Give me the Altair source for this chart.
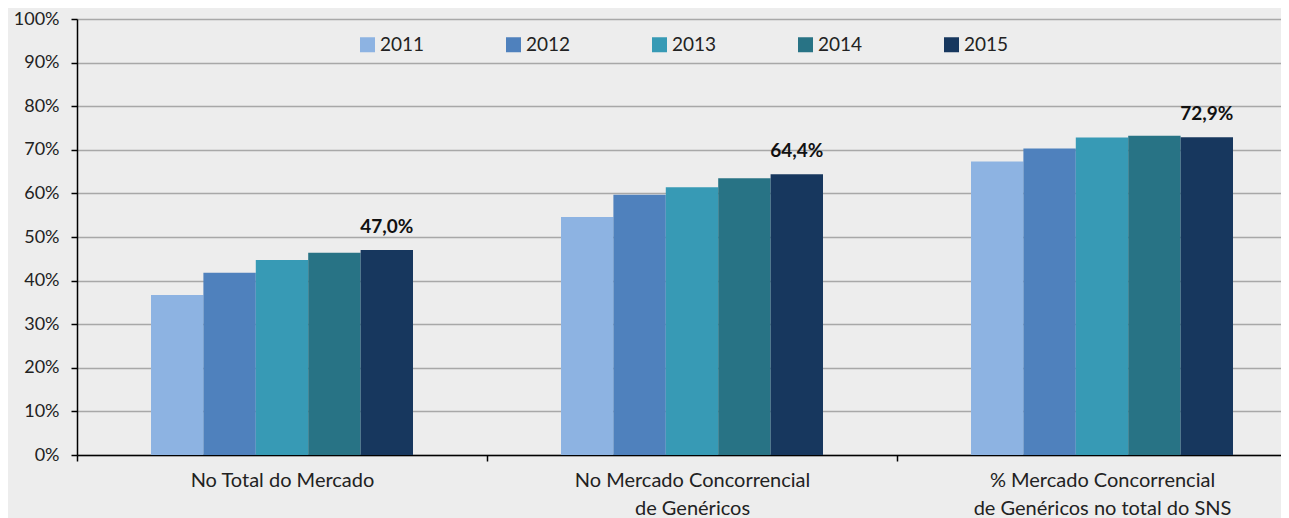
import altair as alt
import pandas as pd

categories = [
    "No Total do Mercado",
    "No Mercado Concorrencial\nde Genéricos",
    "% Mercado Concorrencial\nde Genéricos no total do SNS",
]
years = ["2011", "2012", "2013", "2014", "2015"]
v2011 = [36.7, 54.6, 67.3]
v2012 = [41.8, 59.7, 70.3]
v2013 = [44.7, 61.4, 72.8]
v2014 = [46.4, 63.5, 73.2]
v2015 = [47.0, 64.4, 72.9]
colors = ["#8DB3E2", "#4F81BD", "#379AB5", "#287385", "#17375E"]

series = dict(zip(years, [v2011, v2012, v2013, v2014, v2015]))
rows = []
for yr, vals in series.items():
    for c, v in zip(categories, vals):
        rows.append({"cat": c, "year": yr, "value": v / 100.0,
                     "label": f"{v:.1f}%".replace(".", ",")})
df = pd.DataFrame(rows)

FONT = "Lato"
TXT = "#222222"

x_enc = alt.X(
    "cat:N", sort=categories,
    scale=alt.Scale(range=[0, 1230], paddingInner=0, paddingOuter=0),
    axis=alt.Axis(title=None, labelAngle=0, labelExpr="split(datum.label, '\\n')",
                  labelFontSize=20, labelLineHeight=28, tickBand="extent", tickSize=6,
                  labelPadding=9, labelFont=FONT, labelColor=TXT, grid=False,
                  labelLimit=0),
)
xo_enc = alt.XOffset("year:N", sort=years,
                     scale=alt.Scale(range=[74, 336], paddingInner=0, paddingOuter=0))
y_enc = alt.Y(
    "value:Q", scale=alt.Scale(domain=[0, 1], nice=False),
    axis=alt.Axis(title=None, format=".0%", tickCount=10, labelFontSize=18, labelFont=FONT,
                  labelColor=TXT, tickSize=6, labelPadding=12, grid=True,
                  gridColor="#A8A8A8", gridWidth=1.5),
)

bars = alt.Chart(df).mark_bar(strokeWidth=0).encode(
    x=x_enc, xOffset=xo_enc, y=y_enc,
    color=alt.Color(
        "year:N", sort=years, scale=alt.Scale(domain=years, range=colors),
        legend=alt.Legend(title=None, orient="none", legendX=281, legendY=16,
                          direction="horizontal", symbolType="square", symbolSize=225,
                          symbolStrokeWidth=0, labelFontSize=19, labelFont=FONT,
                          labelColor=TXT, labelOffset=3, columnPadding=79, padding=0),
    ),
)

labels = alt.Chart(df).transform_filter(alt.datum.year == "2015").mark_text(
    font=FONT, fontSize=19, fontWeight="bold", color="#111111", dy=-17,
    baseline="alphabetic", align="center",
).encode(x=x_enc, xOffset=xo_enc, y=y_enc, text="label:N")

chart = (
    alt.layer(bars, labels)
    .properties(width=1204, height=436,
                autosize=alt.AutoSizeParams(type="none"),
                padding={"left": 69, "top": 11, "right": 0, "bottom": 63},
                background="#EDEDED")
    .configure_view(stroke=None)
    .configure_axis(domainColor="#000000", domainWidth=1.5, tickColor="#000000", tickWidth=1.5)
)

chart.save("out.html", embed_options={"renderer": "svg", "actions": False})
